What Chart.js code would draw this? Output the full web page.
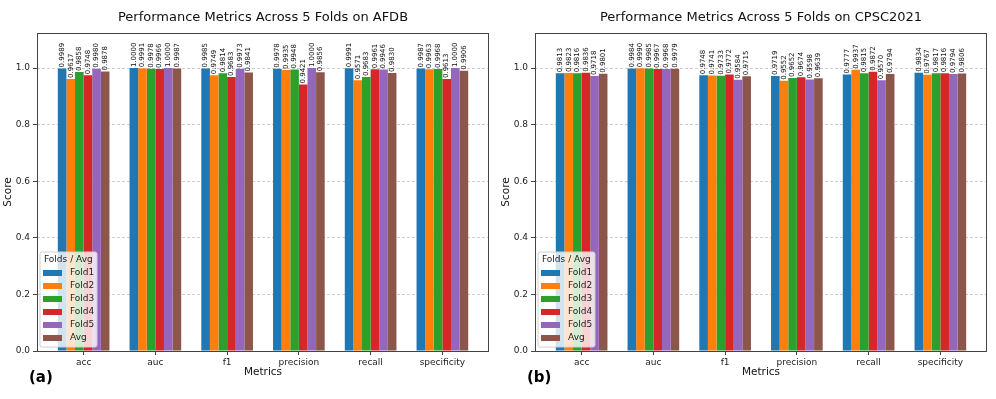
<!DOCTYPE html>
<html>
<head>
<meta charset="utf-8">
<script src="https://cdn.jsdelivr.net/npm/chart.js@4"></script>
<style>
  html, body { margin: 0; padding: 0; background: #fff; }
  #wrap { position: relative; width: 996px; height: 399px; }
  .box { position: absolute; top: 0; width: 498px; height: 399px; }
</style>
</head>
<body>
<div id="wrap">
  <div class="box" style="left:0"><canvas id="chartA" width="498" height="399"></canvas></div>
  <div class="box" style="left:498px"><canvas id="chartB" width="498" height="399"></canvas></div>
</div>
<script>
const metrics = ['acc', 'auc', 'f1', 'precision', 'recall', 'specificity'];
const seriesNames = ['Fold1', 'Fold2', 'Fold3', 'Fold4', 'Fold5', 'Avg'];
const seriesColors = ['#1f77b4', '#ff7f0e', '#2ca02c', '#d62728', '#9467bd', '#8c564b'];
const yTicks = [0, 0.2, 0.4, 0.6, 0.8, 1.0];

// AFDB
const afdbFold1 = [0.9989, 1.0000, 0.9985, 0.9978, 0.9991, 0.9987];
const afdbFold2 = [0.9617, 0.9991, 0.9749, 0.9935, 0.9571, 0.9963];
const afdbFold3 = [0.9858, 0.9978, 0.9814, 0.9948, 0.9683, 0.9968];
const afdbFold4 = [0.9748, 0.9966, 0.9683, 0.9421, 0.9961, 0.9613];
const afdbFold5 = [0.9980, 1.0000, 0.9973, 1.0000, 0.9946, 1.0000];
const afdbAvg   = [0.9878, 0.9987, 0.9841, 0.9856, 0.9830, 0.9906];

// CPSC2021
const cpscFold1 = [0.9813, 0.9984, 0.9748, 0.9719, 0.9777, 0.9834];
const cpscFold2 = [0.9823, 0.9990, 0.9741, 0.9552, 0.9937, 0.9767];
const cpscFold3 = [0.9816, 0.9985, 0.9733, 0.9652, 0.9815, 0.9817];
const cpscFold4 = [0.9836, 0.9967, 0.9772, 0.9674, 0.9872, 0.9816];
const cpscFold5 = [0.9718, 0.9968, 0.9584, 0.9598, 0.9570, 0.9794];
const cpscAvg   = [0.9801, 0.9979, 0.9715, 0.9639, 0.9794, 0.9806];

const FONT = "'DejaVu Sans', sans-serif";

// value labels, title, frame, legend and panel letter
const extras = {
    id: 'extras',
    afterDatasetsDraw(chart, args, opts) {
        const ctx = chart.ctx;
        const area = chart.chartArea;
        ctx.save();
        // value labels above each bar, rotated
        ctx.font = '7px ' + FONT;
        ctx.fillStyle = '#111';
        ctx.textAlign = 'left';
        ctx.textBaseline = 'middle';
        chart.data.datasets.forEach((ds, di) => {
            chart.getDatasetMeta(di).data.forEach((bar, i) => {
                ctx.save();
                ctx.translate(bar.x, bar.y - 1);
                ctx.rotate(-Math.PI / 2);
                ctx.fillText(ds.data[i].y.toFixed(4), 0, 0);
                ctx.restore();
            });
        });
        // frame
        ctx.strokeStyle = '#444';
        ctx.lineWidth = 1;
        ctx.strokeRect(area.left + 0.5, area.top + 0.5, area.right - area.left - 1, area.bottom - area.top);

        // title
        ctx.font = '13px ' + FONT;
        ctx.fillStyle = '#111';
        ctx.textAlign = 'center';
        ctx.textBaseline = 'middle';
        ctx.fillText(opts.title, (area.left + area.right) / 2, 18);

        // legend
        const lx = area.left + 3, ly = area.bottom - 99, lw = 57, lh = 95;
        ctx.fillStyle = 'rgba(255,255,255,0.8)';
        ctx.strokeStyle = '#d0d0d0';
        ctx.beginPath();
        ctx.roundRect(lx, ly, lw, lh, 2);
        ctx.fill();
        ctx.stroke();
        ctx.font = '9px ' + FONT;
        ctx.fillStyle = '#222';
        ctx.textAlign = 'left';
        ctx.fillText('Folds / Avg', lx + 4, ly + 8);
        seriesNames.forEach((name, i) => {
            const cy = ly + 21 + i * 13;
            ctx.fillStyle = seriesColors[i];
            ctx.fillRect(lx + 3, cy - 3, 19, 6);
            ctx.fillStyle = '#222';
            ctx.fillText(name, lx + 30, cy);
        });

        // panel letter
        ctx.font = 'bold 15px ' + FONT;
        ctx.fillStyle = '#000';
        ctx.fillText(opts.letter, 29, 378);
        ctx.restore();
    }
};

function makeChart(id, series, title, letter) {
    const datasets = series.map((values, s) => ({
        label: seriesNames[s],
        data: values.map((v, i) => ({ x: i, y: v })),
        backgroundColor: seriesColors[s],
        borderWidth: 0,
        categoryPercentage: 0.72,
        barPercentage: 1.0
    }));

    return new Chart(document.getElementById(id), {
        type: 'bar',
        data: { datasets: datasets },
        plugins: [extras],
        options: {
            responsive: false,
            animation: false,
            layout: { padding: { top: 33, right: 9, bottom: 20, left: 0 } },
            plugins: {
                legend: { display: false },
                tooltip: { enabled: false },
                extras: { title: title, letter: letter }
            },
            scales: {
                x: {
                    type: 'linear',
                    min: -0.65,
                    max: 5.65,
                    offset: false,
                    afterBuildTicks: scale => {
                        scale.ticks = metrics.map((m, i) => ({ value: i }));
                    },
                    afterFit: scale => { scale.height = 28; },
                    ticks: {
                        callback: v => metrics[v],
                        font: { family: FONT, size: 9 },
                        color: '#222',
                        padding: 2,
                        maxRotation: 0,
                        autoSkip: false
                    },
                    grid: {
                        offset: false,
                        drawOnChartArea: false,
                        tickLength: 4,
                        tickColor: '#444'
                    },
                    border: { display: false },
                    title: {
                        display: true,
                        text: 'Metrics',
                        font: { family: FONT, size: 10.5 },
                        color: '#111',
                        padding: 0
                    }
                },
                y: {
                    min: 0,
                    max: 1.124,
                    afterBuildTicks: scale => {
                        scale.ticks = yTicks.map(v => ({ value: v }));
                    },
                    afterFit: scale => { scale.width = 37; },
                    ticks: {
                        callback: v => v.toFixed(1),
                        font: { family: FONT, size: 9 },
                        color: '#222',
                        padding: 3
                    },
                    grid: {
                        color: '#cccccc',
                        tickBorderDash: [],
                        tickColor: '#444',
                        tickLength: 4
                    },
                    border: { display: false, dash: [3, 2] },
                    title: {
                        display: true,
                        text: 'Score',
                        font: { family: FONT, size: 10.5 },
                        color: '#111',
                        padding: { top: 2, bottom: 0 }
                    }
                }
            }
        }
    });
}

makeChart('chartA', [afdbFold1, afdbFold2, afdbFold3, afdbFold4, afdbFold5, afdbAvg],
    'Performance Metrics Across 5 Folds on AFDB', '(a)');
makeChart('chartB', [cpscFold1, cpscFold2, cpscFold3, cpscFold4, cpscFold5, cpscAvg],
    'Performance Metrics Across 5 Folds on CPSC2021', '(b)');
</script>
</body>
</html>
